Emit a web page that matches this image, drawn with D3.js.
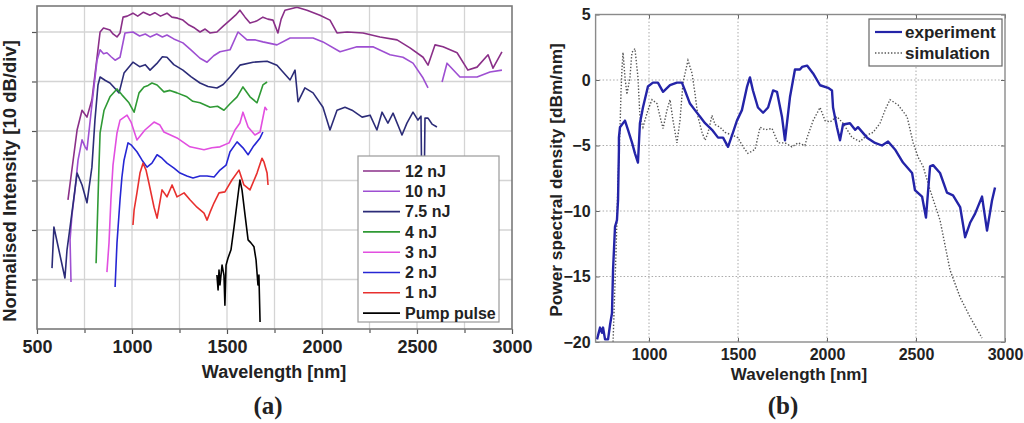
<!DOCTYPE html>
<html><head><meta charset="utf-8">
<script src="https://cdn.jsdelivr.net/npm/d3@7"></script>
<style>
body{margin:0;background:#fff}
svg{display:block}
text{font-family:"Liberation Sans",Arial,sans-serif;font-weight:bold;fill:#222}
</style>
</head><body>
<svg id="c" width="1024" height="423"></svg>
<script>
// ---------- Panel (a) data: [wavelength nm, intensity dB] ----------
const labelsA = ["12 nJ","10 nJ","7.5 nJ","4 nJ","3 nJ","2 nJ","1 nJ","Pump pulse"];
const colorsA = ["#8a2f88","#9e4fd2","#2c2c78","#2f9a35","#e24fe0","#2626d4","#e8302e","#000000"];
const xTicksA = [500,1000,1500,2000,2500,3000];
const xMinorA = [750,1250,1750,2250,2750];
const yTicksA = [10,20,30,40,50,60];

const nj12 = [[663,26.1],[711,40.2],[737,44.2],[763,42.8],[789,46.3],[832,60.0],[850,60.8],[884,60.4],[900,59.6],[921,59.0],[937,59.8],[953,63.0],[975,63.2],[1005,63.8],[1030,63.2],[1060,64.0],[1095,63.4],[1120,63.9],[1150,63.2],[1184,63.8],[1210,63.0],[1240,62.8],[1268,62.4],[1300,61.4],[1330,60.8],[1358,60.0],[1385,60.6],[1410,59.8],[1447,60.0],[1480,61.2],[1516,62.4],[1545,63.4],[1568,64.4],[1595,63.0],[1621,61.8],[1655,62.2],[1689,63.0],[1715,62.6],[1742,62.4],[1768,59.8],[1785,62.6],[1805,64.4],[1868,65.0],[1921,64.4],[1989,63.4],[2042,62.4],[2079,59.8],[2132,60.0],[2216,59.8],[2305,59.0],[2395,58.4],[2463,56.8],[2532,54.9],[2558,53.3],[2595,57.4],[2637,57.0],[2711,55.8],[2768,52.3],[2816,52.9],[2874,55.4],[2900,52.7],[2947,56.0]];

const nj10 = [[679,9.5],[674,18.0],[684,23.0],[700,28.1],[716,34.1],[737,38.2],[753,36.8],[763,36.2],[789,45.3],[816,54.3],[832,56.4],[850,55.6],[868,55.8],[890,55.0],[911,54.3],[937,54.9],[963,59.8],[1005,60.0],[1040,59.2],[1070,59.6],[1095,59.0],[1130,59.6],[1160,59.0],[1184,59.4],[1220,58.6],[1268,57.8],[1310,56.4],[1358,54.7],[1395,53.9],[1430,55.2],[1463,56.0],[1516,56.4],[1558,60.0],[1605,58.4],[1650,58.4],[1689,58.0],[1763,57.4],[1832,58.8],[1953,58.8],[2005,58.0],[2095,56.0],[2184,57.0],[2268,57.0],[2358,55.4],[2426,54.9],[2479,53.7],[2532,50.7],[2558,48.7],[2595,null],[2632,49.9],[2658,53.7],[2726,50.9],[2816,50.9],[2884,51.9],[2947,52.3]];

const nj75 = [[579,12.3],[589,20.6],[647,10.3],[658,16.0],[674,20.6],[711,31.5],[737,29.1],[763,25.5],[789,32.7],[805,42.2],[821,49.3],[832,50.9],[860,50.2],[884,49.7],[932,47.7],[958,51.7],[1005,53.9],[1040,53.0],[1070,53.4],[1095,52.3],[1130,53.6],[1160,55.0],[1184,54.9],[1220,53.4],[1268,52.3],[1310,51.0],[1358,49.7],[1400,49.0],[1447,48.7],[1480,49.4],[1516,50.9],[1568,53.3],[1637,53.9],[1711,54.1],[1763,53.3],[1832,50.3],[1858,52.3],[1874,45.9],[1910,48.7],[1953,47.7],[2005,44.8],[2042,40.2],[2079,44.2],[2121,44.8],[2158,44.2],[2211,42.8],[2253,43.2],[2289,40.2],[2316,43.8],[2347,41.6],[2374,43.6],[2421,39.2],[2447,41.6],[2479,43.8],[2505,42.2],[2521,43.0],[2526,26.0],[2537,26.0],[2542,42.6],[2558,42.6],[2579,41.4],[2605,40.8]];

const nj4 = [[811,13.3],[821,26.1],[826,32.7],[832,39.6],[853,44.2],[884,46.9],[921,48.5],[947,47.3],[984,45.7],[1011,43.8],[1037,47.7],[1063,48.9],[1085,49.2],[1105,49.7],[1132,49.3],[1168,47.9],[1200,48.2],[1237,47.7],[1289,46.9],[1320,46.0],[1358,45.7],[1411,44.8],[1450,45.0],[1484,44.2],[1516,45.5],[1553,46.9],[1584,48.9],[1621,46.9],[1658,45.7],[1689,49.3],[1711,49.9]];

const nj3 = [[868,11.5],[879,17.4],[889,26.1],[900,33.1],[921,39.6],[937,42.2],[974,43.2],[995,41.8],[1026,38.2],[1068,40.2],[1116,41.8],[1147,41.2],[1168,39.8],[1237,38.6],[1305,36.8],[1379,36.2],[1421,36.6],[1463,36.8],[1511,37.6],[1542,40.2],[1568,41.6],[1584,43.8],[1611,40.8],[1647,39.2],[1674,39.8],[1700,44.8],[1711,44.2]];

const nj2 = [[911,8.5],[921,17.4],[937,26.1],[947,30.7],[958,34.1],[979,37.6],[995,37.2],[1026,35.8],[1053,34.1],[1079,32.7],[1105,33.5],[1132,35.2],[1158,34.5],[1184,33.5],[1221,32.5],[1253,31.5],[1289,30.9],[1321,30.5],[1358,30.9],[1395,30.9],[1432,30.7],[1463,32.1],[1495,33.1],[1516,35.8],[1553,37.8],[1584,36.6],[1611,35.2],[1637,36.8],[1674,38.6],[1689,39.8]];

const nj1 = [[1005,21.0],[1011,24.0],[1026,27.5],[1042,31.5],[1058,33.5],[1074,32.1],[1089,29.5],[1116,24.6],[1132,22.4],[1158,28.1],[1184,26.7],[1211,29.1],[1237,26.7],[1274,27.5],[1305,26.1],[1342,24.6],[1379,23.4],[1395,22.0],[1411,23.6],[1432,25.5],[1458,27.5],[1489,27.7],[1526,30.1],[1563,32.1],[1589,29.1],[1621,28.1],[1658,31.5],[1684,34.5],[1695,33.7],[1711,31.5],[1716,29.1]];

const pump = [[1447,10.9],[1453,7.9],[1458,11.9],[1463,8.9],[1474,12.9],[1484,10.9],[1489,4.8],[1495,12.9],[1505,14.3],[1521,16.0],[1537,20.6],[1553,25.5],[1568,30.1],[1579,28.1],[1595,23.0],[1611,18.0],[1626,17.4],[1642,16.6],[1653,13.9],[1663,8.9],[1668,10.9],[1674,1.4]];

const seriesA = [nj12,nj10,nj75,nj4,nj3,nj2,nj1,pump];

// ---------- Panel (b) data: [wavelength nm, PSD dBm/nm] ----------
const labelsB = ["experiment","simulation"];
const xTicksB = [1000,1500,2000,2500,3000];
const yTicksB = [5,0,-5,-10,-15,-20];

const experiment = [[708,-19.8],[725,-18.9],[736,-19.3],[742,-18.9],[753,-19.8],[770,-19.8],[781,-18.7],[792,-17.8],[798,-14.5],[809,-11.2],[820,-10.7],[826,-9.2],[831,-5.3],[831,-4.4],[837,-3.6],[865,-3.1],[882,-3.8],[905,-4.8],[921,-5.6],[938,-6.3],[949,-3.3],[966,-2.1],[994,-0.5],[1022,-0.2],[1050,-0.2],[1079,-0.9],[1118,-0.4],[1157,-0.2],[1185,-0.2],[1202,-0.8],[1230,-1.8],[1258,-2.3],[1287,-2.8],[1315,-3.3],[1354,-3.8],[1388,-4.4],[1416,-4.4],[1444,-5.1],[1472,-4.0],[1494,-3.1],[1522,-2.3],[1551,-0.5],[1567,0.2],[1584,-0.8],[1612,-2.1],[1641,-2.5],[1669,-2.1],[1697,-0.8],[1719,-0.9],[1747,-2.8],[1764,-4.6],[1792,-1.3],[1820,0.8],[1848,0.8],[1860,1.0],[1888,1.1],[1922,0.5],[1961,-0.4],[2006,-0.6],[2028,-0.8],[2034,-2.1],[2056,-3.6],[2073,-4.6],[2090,-3.4],[2129,-3.3],[2158,-3.8],[2174,-3.6],[2225,-4.4],[2270,-4.8],[2309,-5.0],[2343,-4.7],[2382,-5.3],[2427,-6.3],[2478,-7.1],[2494,-8.4],[2534,-8.9],[2556,-10.5],[2579,-6.6],[2596,-6.5],[2635,-7.1],[2674,-8.6],[2708,-8.8],[2748,-9.7],[2776,-12.0],[2804,-10.9],[2832,-10.2],[2871,-8.9],[2899,-11.5],[2927,-9.2],[2944,-8.2]];

const simulation = [[798,-20.0],[815,-13.0],[826,-7.6],[837,-3.8],[843,-0.8],[848,0.8],[854,2.1],[865,0.2],[876,-1.1],[893,0.2],[904,2.1],[921,2.4],[938,0.2],[949,-2.8],[966,-3.6],[994,-2.3],[1017,-1.5],[1045,-1.8],[1062,-2.8],[1079,-3.7],[1101,-2.3],[1118,-1.5],[1135,-3.1],[1157,-4.8],[1174,-3.1],[1191,-0.2],[1219,1.5],[1242,0.5],[1258,-1.0],[1275,-2.8],[1298,-4.0],[1315,-4.6],[1332,-4.0],[1354,-2.7],[1371,-3.4],[1399,-3.6],[1427,-4.0],[1466,-4.2],[1500,-4.4],[1528,-5.1],[1556,-5.6],[1596,-5.3],[1624,-3.6],[1652,-3.8],[1691,-3.7],[1725,-4.8],[1764,-4.8],[1803,-5.1],[1837,-4.8],[1876,-5.0],[1888,-4.4],[1922,-3.1],[1961,-2.1],[1989,-3.1],[2017,-3.2],[2056,-2.8],[2090,-3.3],[2141,-4.4],[2186,-4.7],[2225,-4.2],[2259,-4.0],[2298,-3.3],[2326,-2.3],[2354,-1.5],[2399,-1.9],[2450,-2.8],[2484,-4.8],[2512,-5.9],[2540,-6.6],[2579,-8.4],[2635,-10.7],[2691,-14.5],[2748,-16.6],[2804,-18.1],[2871,-19.7]];

// ---------- drawing ----------
const svg = d3.select("#c");

// Panel (a)
const xA = d3.scaleLinear().domain([500,3000]).range([37,512]);
const yA = d3.scaleLinear().domain([0,65.25]).range([329,6]);
const gA = svg.append("g");

gA.append("g").selectAll("line").data(xTicksA.slice(1,-1).concat(xMinorA)).join("line")
  .attr("x1",d=>xA(d)).attr("x2",d=>xA(d)).attr("y1",yA.range()[1]).attr("y2",yA.range()[0])
  .attr("stroke","#d4d4d4").attr("stroke-width",1.3);
gA.append("g").selectAll("line").data(yTicksA).join("line")
  .attr("x1",xA.range()[0]).attr("x2",xA.range()[1]).attr("y1",d=>yA(d)).attr("y2",d=>yA(d))
  .attr("stroke","#d4d4d4").attr("stroke-width",1.3);

const axA = gA.append("g").attr("transform","translate(0,329)")
  .call(d3.axisBottom(xA).tickValues(xTicksA).tickSize(5).tickPadding(6).tickFormat(d3.format("d")));
const axAm = gA.append("g").attr("transform","translate(0,329)")
  .call(d3.axisBottom(xA).tickValues(xMinorA).tickSize(4).tickFormat(""));
const ayA = gA.append("g").attr("transform","translate(37,0)")
  .call(d3.axisLeft(yA).tickValues(yTicksA).tickSize(5).tickFormat(""));
[axA,axAm,ayA].forEach(a=>{a.select(".domain").remove();a.selectAll(".tick line").attr("stroke","#555").attr("stroke-width",1.2);});
axA.selectAll("text").style("font-size","18px").attr("fill","#222");

const lineA = d3.line().defined(d=>d[1]!==null).x(d=>xA(d[0])).y(d=>yA(d[1]));
svg.append("clipPath").attr("id","clipA").append("rect")
  .attr("x",37).attr("y",6).attr("width",475).attr("height",323);
const linesA = gA.append("g").attr("clip-path","url(#clipA)");
seriesA.forEach((s,i)=>{
  linesA.append("path").datum(s).attr("d",lineA).attr("fill","none")
    .attr("stroke",colorsA[i]).attr("stroke-width",1.6).attr("stroke-linejoin","round");
});

gA.append("rect").attr("x",37).attr("y",6).attr("width",475).attr("height",323)
  .attr("fill","none").attr("stroke","#7a7a7a").attr("stroke-width",1.6);

const legA = gA.append("g");
legA.append("rect").attr("x",358).attr("y",156).attr("width",141).attr("height",166)
  .attr("fill","#fff").attr("stroke","#9a9a9a").attr("stroke-width",1.2);
labelsA.forEach((l,i)=>{
  const y = 171 + i*20.3;
  legA.append("line").attr("x1",363).attr("x2",400).attr("y1",y).attr("y2",y)
    .attr("stroke",colorsA[i]).attr("stroke-width",1.6);
  legA.append("text").attr("x",405).attr("y",y).attr("dy","0.35em").style("font-size","16px").text(l);
});

gA.append("text").attr("x",274).attr("y",378).attr("text-anchor","middle").style("font-size","18px").text("Wavelength [nm]");
gA.append("text").attr("transform","translate(16,181) rotate(-90)").attr("text-anchor","middle")
  .style("font-size","18.5px").text("Normalised Intensity [10 dB/div]");
gA.append("text").attr("x",268).attr("y",414).attr("text-anchor","middle")
  .style("font-family","'Liberation Serif','Times New Roman',serif").style("font-size","25px").text("(a)");

// Panel (b)
const xB = d3.scaleLinear().domain([700,3000]).range([595.6,1005]);
const yB = d3.scaleLinear().domain([-20,5]).range([342,14.5]);
const gB = svg.append("g");

gB.append("g").selectAll("line").data(xTicksB.slice(0,-1)).join("line")
  .attr("x1",d=>xB(d)).attr("x2",d=>xB(d)).attr("y1",yB(5)).attr("y2",yB(-20))
  .attr("stroke","#aaa").attr("stroke-width",1).attr("stroke-dasharray","1.5,2");
gB.append("g").selectAll("line").data(yTicksB.slice(1,-1)).join("line")
  .attr("x1",xB(700)).attr("x2",xB(3000)).attr("y1",d=>yB(d)).attr("y2",d=>yB(d))
  .attr("stroke","#aaa").attr("stroke-width",1).attr("stroke-dasharray","1.5,2");

const axB = gB.append("g").attr("transform","translate(0,342)")
  .call(d3.axisBottom(xB).tickValues(xTicksB).tickSize(-4).tickPadding(7).tickFormat(d3.format("d")));
const ayB = gB.append("g").attr("transform","translate(595.6,0)")
  .call(d3.axisLeft(yB).tickValues(yTicksB).tickSize(-4).tickPadding(5).tickFormat(d3.format("d")));
const axBt = gB.append("g").attr("transform","translate(0,14.5)")
  .call(d3.axisTop(xB).tickValues(xTicksB).tickSize(-4).tickFormat(""));
const ayBr = gB.append("g").attr("transform","translate(1005,0)")
  .call(d3.axisRight(yB).tickValues(yTicksB).tickSize(-4).tickFormat(""));
[axB,ayB,axBt,ayBr].forEach(a=>{a.select(".domain").remove();a.selectAll(".tick line").attr("stroke","#666");});
axB.selectAll("text").style("font-size","16px").attr("fill","#222");
ayB.selectAll("text").style("font-size","16px").attr("fill","#222");

const lineB = d3.line().x(d=>xB(d[0])).y(d=>yB(d[1]));
svg.append("clipPath").attr("id","clipB").append("rect")
  .attr("x",595.6).attr("y",14.5).attr("width",409.4).attr("height",327.5);
const linesB = gB.append("g").attr("clip-path","url(#clipB)");
linesB.append("path").datum(simulation).attr("d",lineB).attr("fill","none")
  .attr("stroke","#555").attr("stroke-width",1.4).attr("stroke-dasharray","1.4,1.8");
linesB.append("path").datum(experiment).attr("d",lineB).attr("fill","none")
  .attr("stroke","#2424a8").attr("stroke-width",2.4).attr("stroke-linejoin","round");

gB.append("rect").attr("x",595.6).attr("y",14.5).attr("width",409.4).attr("height",327.5)
  .attr("fill","none").attr("stroke","#8a8a8a").attr("stroke-width",1.4);

const legB = gB.append("g");
legB.append("rect").attr("x",869).attr("y",19).attr("width",133).attr("height",47)
  .attr("fill","#fff").attr("stroke","#666").attr("stroke-width",1.2);
legB.append("line").attr("x1",875).attr("x2",902).attr("y1",32).attr("y2",32)
  .attr("stroke","#2424a8").attr("stroke-width",2.2);
legB.append("line").attr("x1",875).attr("x2",902).attr("y1",53).attr("y2",53)
  .attr("stroke","#555").attr("stroke-width",1.4).attr("stroke-dasharray","1.4,1.8");
labelsB.forEach((l,i)=>{
  legB.append("text").attr("x",905).attr("y",32+i*21).attr("dy","0.35em").style("font-size","17px").text(l);
});

gB.append("text").attr("x",799).attr("y",380).attr("text-anchor","middle").style("font-size","17px").text("Wavelength [nm]");
gB.append("text").attr("transform","translate(562,180) rotate(-90)").attr("text-anchor","middle")
  .style("font-size","17.3px").text("Power spectral density [dBm/nm]");
gB.append("text").attr("x",783).attr("y",414).attr("text-anchor","middle")
  .style("font-family","'Liberation Serif','Times New Roman',serif").style("font-size","25px").text("(b)");
</script>
</body></html>
